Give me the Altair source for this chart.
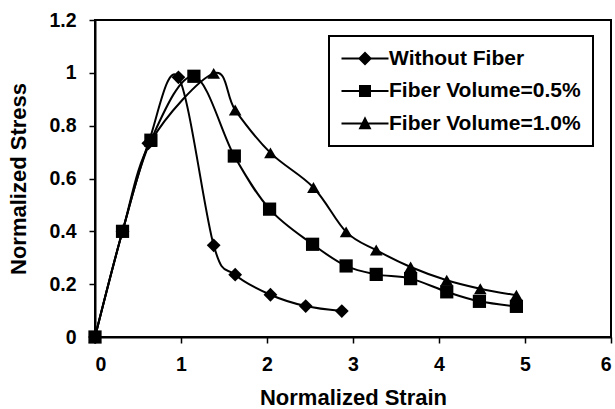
import altair as alt
import pandas as pd

series_names = ["Without Fiber", "Fiber Volume=0.5%", "Fiber Volume=1.0%"]

strain_0 = [0, 0.32, 0.62, 0.97, 1.38, 1.63, 2.04, 2.45, 2.87]
stress_0 = [0, 0.40, 0.733, 0.983, 0.347, 0.236, 0.160, 0.117, 0.098]

strain_05 = [0, 0.32, 0.65, 1.15, 1.62, 2.03, 2.53, 2.92, 3.27, 3.67, 4.09, 4.47, 4.90]
stress_05 = [0, 0.40, 0.745, 0.987, 0.685, 0.484, 0.351, 0.269, 0.237, 0.221, 0.171, 0.135, 0.116]

strain_10 = [0, 0.32, 0.65, 1.38, 1.63, 2.04, 2.54, 2.92, 3.27, 3.67, 4.09, 4.48, 4.90]
stress_10 = [0, 0.40, 0.74, 0.998, 0.859, 0.697, 0.566, 0.398, 0.329, 0.265, 0.215, 0.183, 0.158]

x_ticks = [0, 1, 2, 3, 4, 5, 6]
y_ticks = [0, 0.2, 0.4, 0.6, 0.8, 1, 1.2]

rows = []
for name, xs, ys in zip(series_names, [strain_0, strain_05, strain_10], [stress_0, stress_05, stress_10]):
    for i, (xv, yv) in enumerate(zip(xs, ys)):
        rows.append({"series": name, "strain": xv, "stress": yv, "idx": i})
df = pd.DataFrame(rows)

FONT = "Liberation Sans"

x_enc = alt.X("strain:Q", scale=alt.Scale(domain=[0, 6], nice=False, zero=False),
              axis=alt.Axis(values=x_ticks, format="d", title="Normalized Strain",
                            labelPadding=12, titlePadding=14))
y_enc = alt.Y("stress:Q", scale=alt.Scale(domain=[0, 1.2], nice=False),
              axis=alt.Axis(values=y_ticks, format="~g", title="Normalized Stress",
                            labelPadding=13, titlePadding=18))

base = alt.Chart(df)

lines = base.mark_line(color="black", strokeWidth=2, interpolate="cardinal", clip=False).encode(
    x=x_enc, y=y_enc, detail="series:N", order="idx:Q"
)

points = base.mark_point(filled=True, color="black", opacity=1, clip=False).encode(
    x="strain:Q", y="stress:Q",
    shape=alt.Shape("series:N", scale=alt.Scale(domain=series_names,
                                                range=["diamond", "square", "triangle-up"]),
                    legend=None),
    size=alt.Size("series:N", scale=alt.Scale(domain=series_names, range=[190, 160, 200]),
                  legend=None),
)

# legend glyphs: a short line with the marker in its middle (unit = 10 px)
legend_paths = [
    "M-1,-0.1H3.7V0.1H-1ZM1.35,-0.7L2.05,0L1.35,0.7L0.65,0Z",
    "M-1,-0.1H3.7V0.1H-1ZM0.75,-0.6H1.95V0.6H0.75Z",
    "M-1,-0.1H3.7V0.1H-1ZM1.35,-0.72L2.0,0.58H0.7Z",
]

legend_layer = base.transform_filter("false").mark_point(
    filled=True, color="black", opacity=1
).encode(
    x="strain:Q", y="stress:Q",
    shape=alt.Shape("series:N", scale=alt.Scale(domain=series_names, range=legend_paths),
                    legend=alt.Legend(title=None, orient="none", legendX=234, legendY=16,
                                      symbolSize=400, symbolStrokeWidth=0,
                                      symbolFillColor="black",
                                      labelFont=FONT, labelFontSize=21, labelFontWeight="bold",
                                      labelColor="black", labelOffset=27, rowPadding=10.5,
                                      padding=12, strokeColor="black",
                                      fillColor="white", labelLimit=400)),
)

chart = alt.layer(lines, points, legend_layer).resolve_scale(shape="independent").properties(
    width=516, height=317,
    autosize=alt.AutoSizeParams(type="none"),
    padding={"left": 95, "top": 20, "right": 4, "bottom": 72},
).configure_view(
    stroke="black", strokeWidth=2
).configure_legend(
    strokeWidth=2
).configure_axis(
    grid=False, domainColor="black", domainWidth=2, tickColor="black", tickWidth=1.5,
    tickSize=6, labelFont=FONT, labelFontSize=19.5, labelFontWeight="bold", labelColor="black",
    titleFont=FONT, titleFontSize=22, titleFontWeight="bold", titleColor="black",
)

chart.save("out.html", embed_options={"renderer": "svg", "actions": False})
